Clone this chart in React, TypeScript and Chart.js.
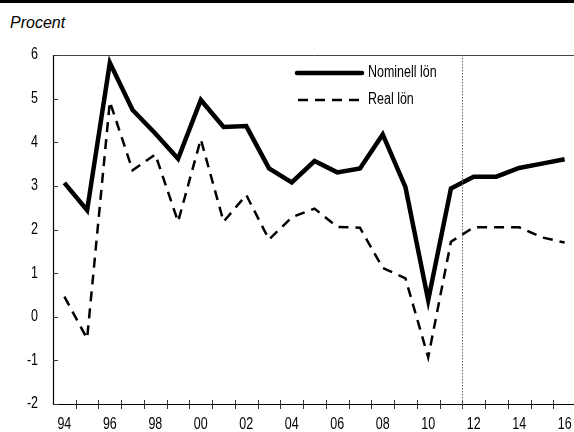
import React, { useEffect, useRef } from "react";
import { Chart, registerables } from "chart.js";

Chart.register(...registerables);

const years = ["94","95","96","97","98","99","00","01","02","03","04","05","06","07","08","09","10","11","12","13","14","15","16"];
const nominell = [3.07, 2.44, 5.82, 4.74, 4.2, 3.62, 4.97, 4.35, 4.37, 3.4, 3.08, 3.57, 3.31, 3.4, 4.18, 2.97, 0.38, 2.94, 3.21, 3.21, 3.41, 3.51, 3.61];
const real = [0.46, -0.5, 4.93, 3.36, 3.72, 2.18, 4.07, 2.18, 2.79, 1.77, 2.28, 2.48, 2.06, 2.04, 1.12, 0.88, -0.93, 1.72, 2.05, 2.05, 2.05, 1.82, 1.7];
const yTicks = [-2, -1, 0, 1, 2, 3, 4, 5, 6];
const labelNominell = "Nominell lön";
const labelReal = "Real lön";
const forecastStartIndex = 18; // boundary before 2012

const FONT = "'Liberation Sans', Arial, sans-serif";
const SX = 0.78;

function narrowText(ctx: any, text: string, x: number, y: number, align: string) {
  ctx.save();
  ctx.translate(x, y);
  ctx.scale(SX, 1);
  ctx.textAlign = align;
  ctx.fillText(text, 0, 0);
  ctx.restore();
}

const decorPlugin = {
  id: "decor",
  afterDraw(chart: any) {
    const { ctx, chartArea } = chart;
    const x = chart.scales.x;
    const y = chart.scales.y;
    const n = years.length;
    const w = (chartArea.right - chartArea.left) / n;
    ctx.save();
    // frame top
    ctx.strokeStyle = "#444";
    ctx.lineWidth = 1;
    ctx.beginPath();
    ctx.moveTo(chartArea.left, chartArea.top + 0.5);
    ctx.lineTo(chartArea.right, chartArea.top + 0.5);
    ctx.stroke();
    // axes
    ctx.strokeStyle = "#000";
    ctx.lineWidth = 1.2;
    ctx.beginPath();
    ctx.moveTo(chartArea.left + 0.5, chartArea.top);
    ctx.lineTo(chartArea.left + 0.5, chartArea.bottom + 0.5);
    ctx.lineTo(chartArea.right, chartArea.bottom + 0.5);
    ctx.stroke();
    // x ticks
    ctx.lineWidth = 1;
    ctx.strokeStyle = "#333";
    for (let i = 1; i < n; i++) {
      const px = Math.round(chartArea.left + i * w) + 0.5;
      ctx.beginPath();
      ctx.moveTo(px, chartArea.bottom - 4);
      ctx.lineTo(px, chartArea.bottom + 5);
      ctx.stroke();
    }
    // y ticks (inward)
    for (const v of yTicks) {
      const py = Math.round(y.getPixelForValue(v)) + 0.5;
      ctx.beginPath();
      ctx.moveTo(chartArea.left, py);
      ctx.lineTo(chartArea.left + 5, py);
      ctx.stroke();
    }
    // forecast dotted line
    const fx = Math.round(chartArea.left + forecastStartIndex * w) + 0.5;
    ctx.strokeStyle = "#666";
    ctx.setLineDash([1.5, 1.5]);
    ctx.beginPath();
    ctx.moveTo(fx, chartArea.top);
    ctx.lineTo(fx, chartArea.bottom + 5);
    ctx.stroke();
    ctx.setLineDash([]);
    // tick labels
    ctx.fillStyle = "#000";
    ctx.font = `16px ${FONT}`;
    ctx.textBaseline = "middle";
    for (let i = 0; i < n; i += 2) {
      narrowText(ctx, years[i], x.getPixelForValue(i), chartArea.bottom + 21, "center");
    }
    for (const v of yTicks) {
      narrowText(ctx, String(v), 38, y.getPixelForValue(v), "right");
    }
    // legend
    const lx0 = 297, lx1 = 362;
    ctx.strokeStyle = "#000";
    ctx.lineWidth = 4.5;
    ctx.lineCap = "round";
    ctx.beginPath();
    ctx.moveTo(lx0, 73);
    ctx.lineTo(lx1, 73);
    ctx.stroke();
    ctx.lineCap = "butt";
    ctx.lineWidth = 2.5;
    ctx.setLineDash([10, 7]);
    ctx.beginPath();
    ctx.moveTo(lx0 + 1, 100);
    ctx.lineTo(lx1, 100);
    ctx.stroke();
    ctx.setLineDash([]);
    ctx.font = `16px ${FONT}`;
    narrowText(ctx, labelNominell, 368, 73, "left");
    narrowText(ctx, labelReal, 368, 100, "left");
    ctx.restore();
  },
};

export default function App() {
  const ref = useRef<HTMLCanvasElement | null>(null);
  useEffect(() => {
    if (!ref.current) return;
    const chart = new Chart(ref.current, {
      type: "line",
      data: {
        labels: years,
        datasets: [
          {
            label: labelNominell,
            data: nominell,
            borderColor: "#000",
            borderWidth: 4.5,
            pointRadius: 0,
            tension: 0,
            borderJoinStyle: "miter",
          },
          {
            label: labelReal,
            data: real,
            borderColor: "#000",
            borderWidth: 2.5,
            borderDash: [10, 7],
            pointRadius: 0,
            tension: 0,
          },
        ],
      },
      options: {
        animation: false,
        responsive: false,
        maintainAspectRatio: false,
        layout: { padding: { top: 55, right: 0, left: 0, bottom: 0 } },
        plugins: { legend: { display: false }, tooltip: { enabled: false } },
        scales: {
          x: {
            offset: true,
            border: { display: false },
            grid: { display: false, offset: true },
            ticks: { display: false },
            afterFit: (s: any) => { s.height = 28; },
          },
          y: {
            min: -2,
            max: 6,
            border: { display: false },
            grid: { display: false },
            ticks: { display: false, stepSize: 1 },
            afterFit: (s: any) => { s.width = 53; },
          },
        },
      },
      plugins: [decorPlugin],
    });
    return () => chart.destroy();
  }, []);
  return (
    <div style={{ position: "absolute", left: 0, top: 0, width: 574, height: 432, overflow: "hidden", background: "#fff" }}>
      <div style={{ position: "absolute", left: 0, top: 0, width: 574, height: 3, background: "#000" }} />
      <div style={{ position: "absolute", left: 10, top: 14, fontFamily: "'Liberation Sans', Arial, sans-serif", fontStyle: "italic", fontSize: 16, lineHeight: "18px", color: "#000" }}>Procent</div>
      <canvas ref={ref} width={576} height={432} style={{ position: "absolute", left: 0, top: 0, width: 576, height: 432 }} />
    </div>
  );
}
